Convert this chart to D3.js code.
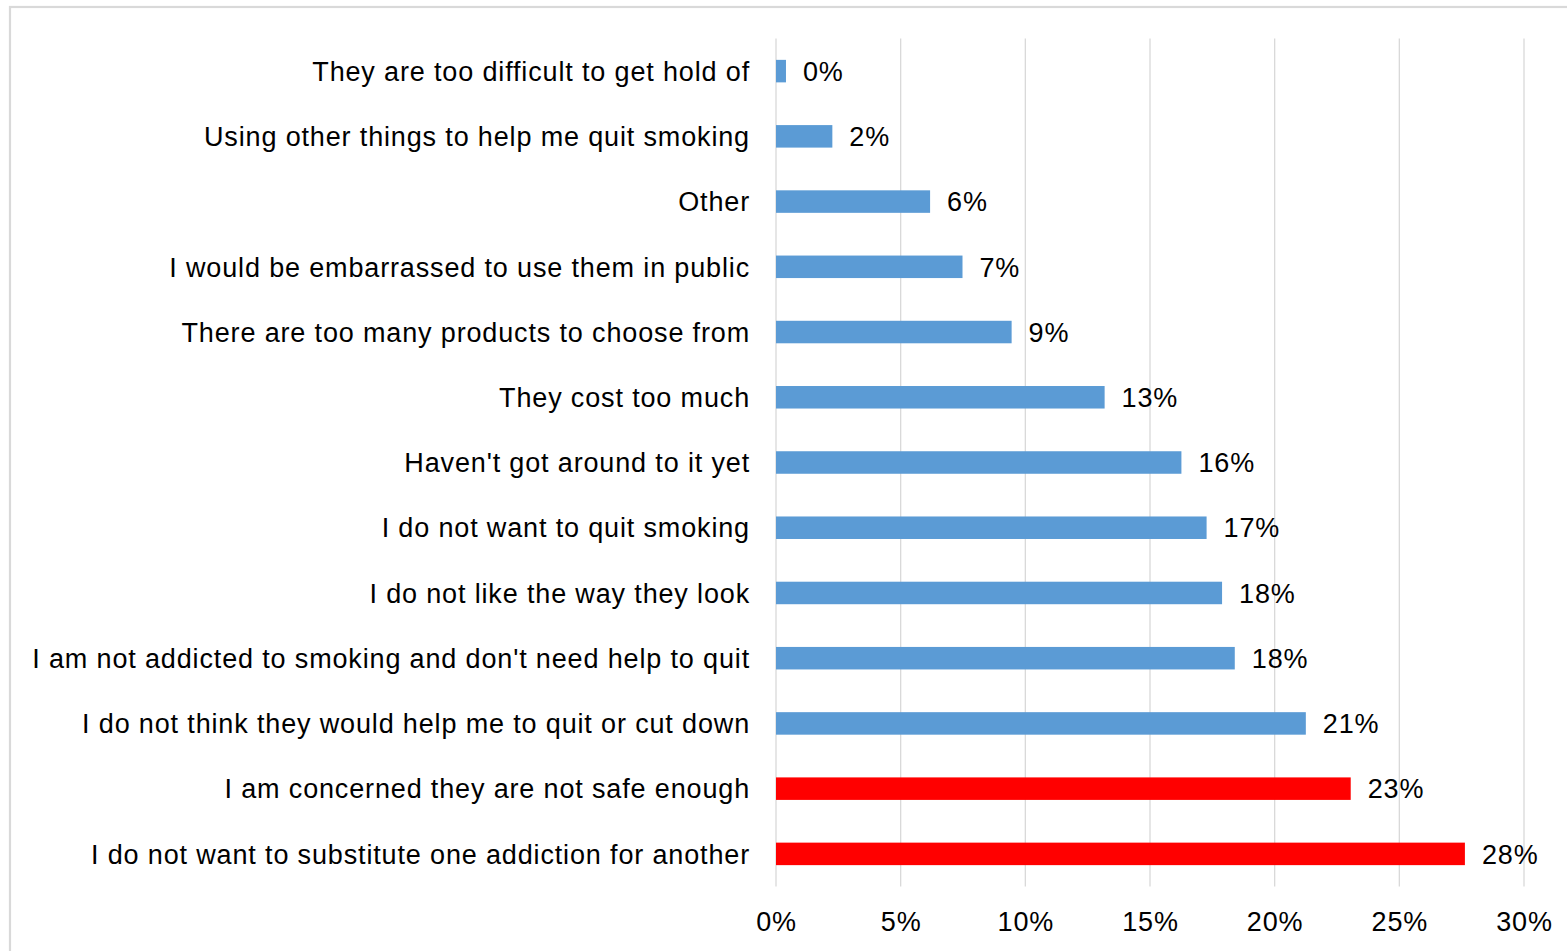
<!DOCTYPE html>
<html>
<head>
<meta charset="utf-8">
<script src="https://cdn.jsdelivr.net/npm/d3@7"></script>
<style>
  body { margin: 0; background: #fff; }
  svg text { font-family: "Liberation Sans", Arial, sans-serif; fill: #000; }
</style>
</head>
<body>
<div id="chart"></div>
<script>
// Reasons, top to bottom as shown
const categories = [
  "They are too difficult to get hold of",
  "Using other things to help me quit smoking",
  "Other",
  "I would be embarrassed to use them in public",
  "There are too many products to choose from",
  "They cost too much",
  "Haven't got around to it yet",
  "I do not want to quit smoking",
  "I do not like the way they look",
  "I am not addicted to smoking and don't need help to quit",
  "I do not think they would help me to quit or cut down",
  "I am concerned they are not safe enough",
  "I do not want to substitute one addiction for another"
];
// share of respondents (%)
const values = [0.4, 2.26, 6.18, 7.48, 9.45, 13.18, 16.26, 17.27, 17.89, 18.4, 21.25, 23.05, 27.63];
const highlighted = [
  "I am concerned they are not safe enough",
  "I do not want to substitute one addiction for another"
];
const xTicks = [0, 5, 10, 15, 20, 25, 30];

const data = categories.map((c, i) => ({ name: c, value: values[i] }));

const config = {
  width: 1567,
  height: 951,
  margin: { top: 38.5, right: 43, bottom: 64.5, left: 776 },
  blue: "#5b9bd5",
  red: "#ff0000",
  grid: "#d9d9d9"
};

const innerW = config.width - config.margin.left - config.margin.right;
const innerH = config.height - config.margin.top - config.margin.bottom;

const svg = d3.select("#chart")
  .append("svg")
  .attr("width", config.width)
  .attr("height", config.height);

// outer frame (cut off at right and bottom in the original)
svg.append("rect")
  .attr("x", 10)
  .attr("y", 7)
  .attr("width", 1620)
  .attr("height", 1000)
  .attr("fill", "none")
  .attr("stroke", config.grid)
  .attr("stroke-width", 2.2);

const g = svg.append("g")
  .attr("transform", `translate(${config.margin.left},${config.margin.top})`);

const xScale = d3.scaleLinear().domain([0, 30]).range([0, innerW]);
const yScale = d3.scaleBand()
  .domain(categories)
  .range([0, innerH])
  .paddingInner(0.655)
  .paddingOuter(0.3275);

// vertical gridlines
g.append("g")
  .selectAll("line")
  .data(xTicks)
  .join("line")
  .attr("x1", d => xScale(d))
  .attr("x2", d => xScale(d))
  .attr("y1", 0)
  .attr("y2", innerH)
  .attr("stroke", config.grid)
  .attr("stroke-width", 1.3);

// x axis labels
const xAxis = d3.axisBottom(xScale)
  .tickValues(xTicks)
  .tickFormat(d => d + "%")
  .tickSize(0)
  .tickPadding(44.5);

g.append("g")
  .attr("transform", `translate(0,${innerH})`)
  .call(xAxis)
  .call(ax => ax.select(".domain").remove())
  .call(ax => ax.selectAll("text")
    .attr("dy", 0)
    .style("font-size", "27px")
    .style("letter-spacing", "0.85px")
    .attr("font-family", null));

// y axis labels
const yAxis = d3.axisLeft(yScale).tickSize(0).tickPadding(26);
g.append("g")
  .call(yAxis)
  .call(ax => ax.select(".domain").remove())
  .call(ax => ax.selectAll("text")
    .attr("dy", "0.36em")
    .style("font-size", "27px")
    .style("letter-spacing", "0.85px")
    .attr("font-family", null));

// bars
g.selectAll(".bar")
  .data(data)
  .join("rect")
  .attr("class", "bar")
  .attr("x", 0)
  .attr("y", d => yScale(d.name))
  .attr("width", d => xScale(d.value))
  .attr("height", yScale.bandwidth())
  .attr("fill", d => highlighted.includes(d.name) ? config.red : config.blue);

// value labels
g.selectAll(".val")
  .data(data)
  .join("text")
  .attr("class", "val")
  .attr("x", d => xScale(d.value) + 17)
  .attr("y", d => yScale(d.name) + yScale.bandwidth() / 2)
  .attr("dy", "0.36em")
  .style("font-size", "27px")
  .style("letter-spacing", "0.85px")
  .text(d => Math.round(d.value) + "%");
</script>
</body>
</html>
